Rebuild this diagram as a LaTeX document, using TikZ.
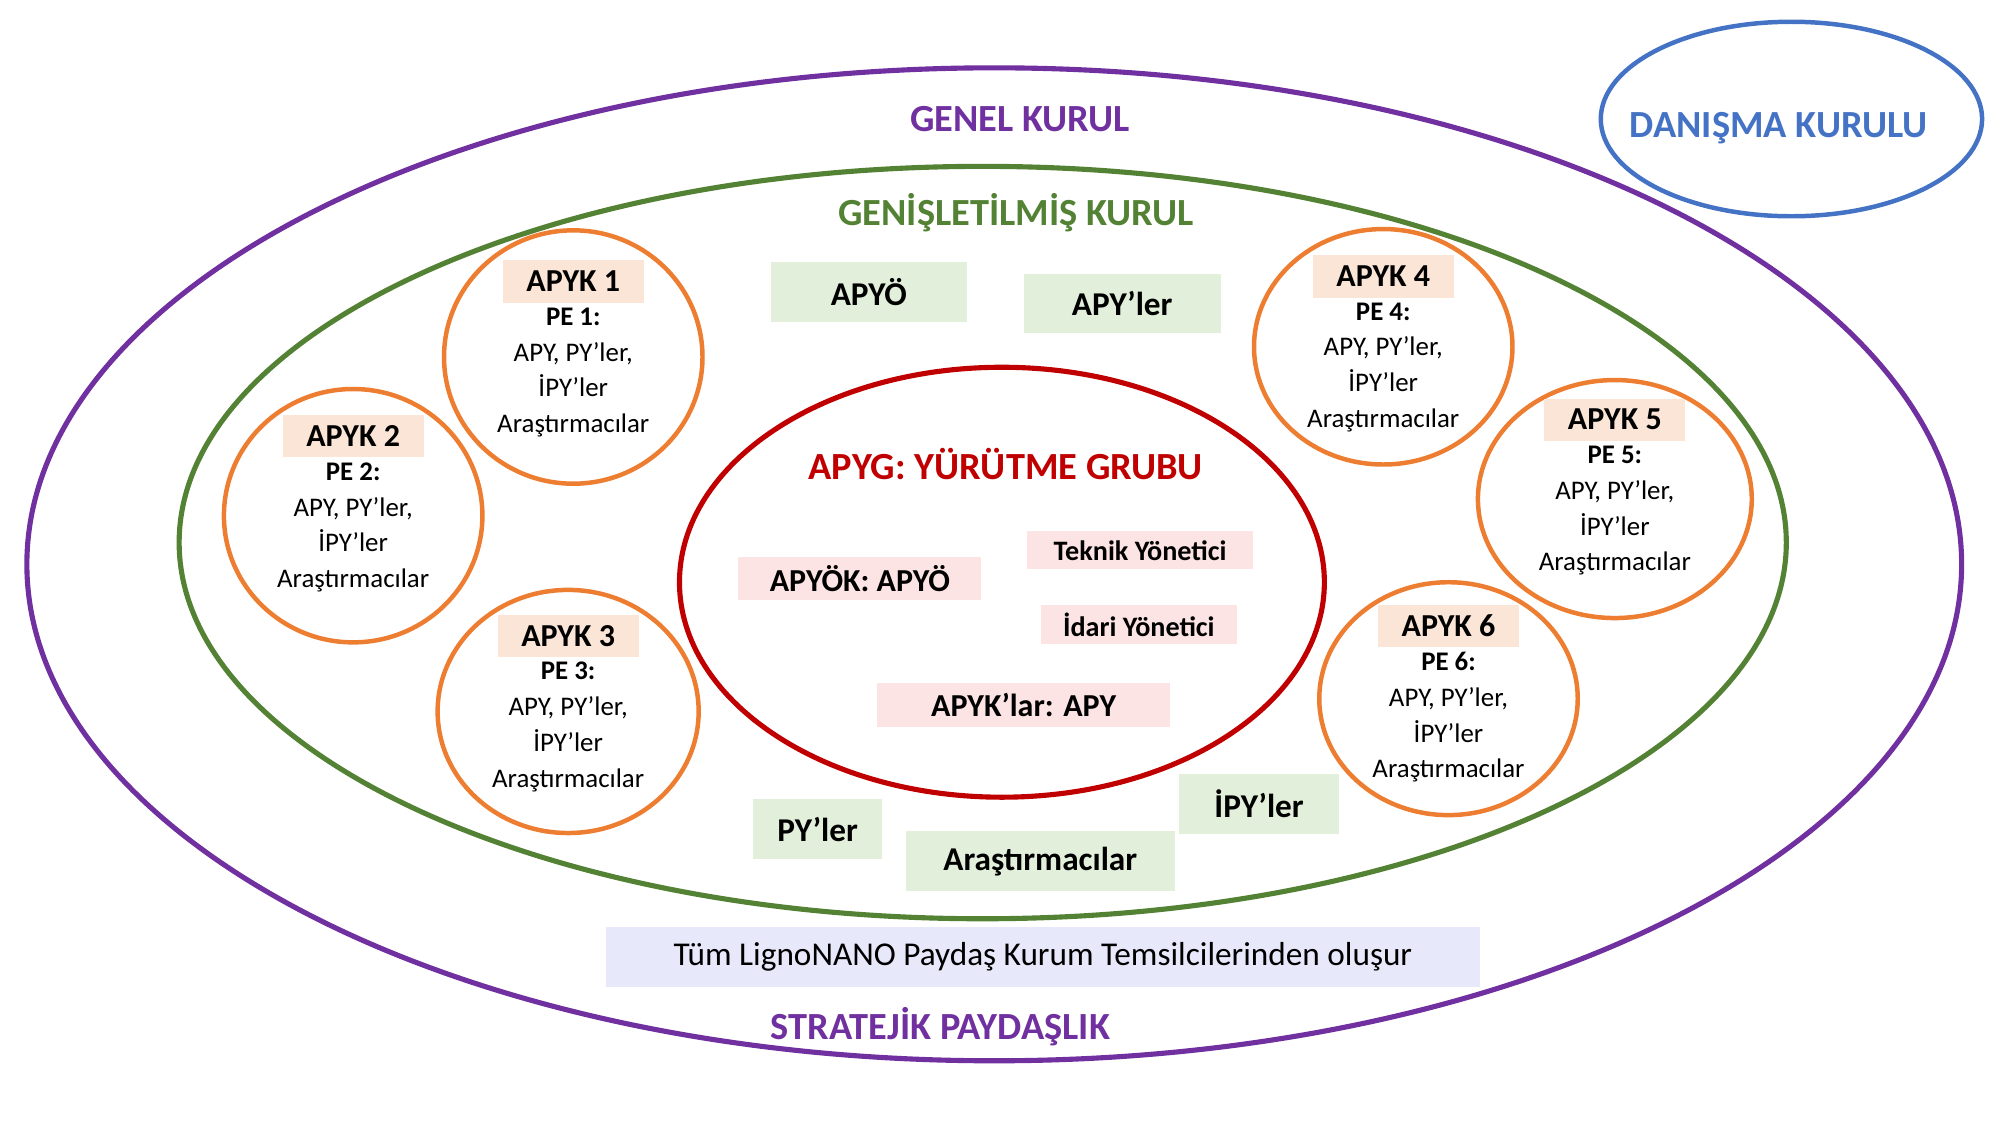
\documentclass[tikz,border=0pt]{standalone}
\usepackage{fontspec}
\setmainfont{Carlito}
\definecolor{pur}{HTML}{7030A0}
\definecolor{grn}{HTML}{548235}
\definecolor{org}{HTML}{ED7D31}
\definecolor{dred}{HTML}{C00000}
\definecolor{blu}{HTML}{4472C4}
\definecolor{peach}{HTML}{FBE5D6}
\definecolor{pink}{HTML}{FDE4E4}
\definecolor{lgrn}{HTML}{E2EFDA}
\definecolor{lav}{HTML}{E8E8FB}
\begin{document}
\begin{tikzpicture}[x=1pt,y=-1pt,
  title/.style={font=\fontsize{30}{30}\selectfont\bfseries},
  gbox/.style={fill=lgrn,font=\fontsize{26}{26}\selectfont\bfseries,inner sep=0pt,anchor=center},
  pbox/.style={fill=pink,font=\fontsize{22}{22}\selectfont\bfseries,inner sep=0pt,anchor=center},
  klab/.style={fill=peach,font=\fontsize{25}{25}\selectfont\bfseries,inner sep=0pt,anchor=center},
  ctext/.style={font=\fontsize{21}{28}\selectfont,align=center,anchor=north},
  circ/.style={draw=org,line width=3.5pt}]
\useasboundingbox (0,0) rectangle (1563,879);
\draw[pur,line width=4pt] (777,441) ellipse [x radius=756,y radius=388];
\draw[blu,line width=3.5pt] (1400,93) ellipse [x radius=149,y radius=76];
\draw[grn,line width=4pt] (768,424) ellipse [x radius=628,y radius=294];
\draw[dred,line width=4pt] (783,455) ellipse [x radius=252,y radius=168];
\node[title,text=blu] (dk) at (1390,100) {DANIŞMA KURULU};
\node[title,text=pur] (gk) at (797,93) {GENEL KURUL};
\node[title,text=grn] (gek) at (794,166) {GENİŞLETİLMİŞ KURUL};
\node[title,text=dred] (yg) at (786,363) {APYG: YÜRÜTME GRUBU};
\node[title,text=pur] (sp) at (735,802) {STRATEJİK PAYDAŞLIK};
% circles
\foreach \n/\cx/\cy/\rx/\ry/\ly in {1/448/279/101/99/220, 2/276/403/101/99/341, 3/444/556/102/95/497, 4/1081/271/101/92/216, 5/1262/390/107/93/328, 6/1132/546/101/91/489}{
  \draw[circ] (\cx,\cy) ellipse [x radius=\rx,y radius=\ry];
  \node[klab,minimum width=110pt,minimum height=33pt] (k\n) at (\cx,\ly) {APYK \n};
  \node[ctext] (t\n) at (\cx,\ly+17) {\textbf{PE \n:}\\APY, PY’ler,\\İPY’ler\\Araştırmacılar};
}
% green boxes
\node[gbox,minimum width=153pt,minimum height=47pt] (b1) at (679,228) {APYÖ};
\node[gbox,minimum width=154pt,minimum height=46pt] (b2) at (877,237) {APY’ler};
\node[gbox,minimum width=101pt,minimum height=47pt] (b3) at (639,648) {PY’ler};
\node[gbox,minimum width=210pt,minimum height=47pt] (b4) at (813,673) {Araştırmacılar};
\node[gbox,minimum width=125pt,minimum height=47pt] (b5) at (984,628) {İPY’ler};
% pink boxes
\node[pbox,minimum width=177pt,minimum height=30pt] (p1) at (891,430) {Teknik Yönetici};
\node[pbox,minimum width=190pt,minimum height=33pt,font=\fontsize{25}{25}\selectfont\bfseries] (p2) at (672,452) {APYÖK: APYÖ};
\node[pbox,minimum width=153pt,minimum height=31pt] (p3) at (890,488) {İdari Yönetici};
\node[pbox,minimum width=229pt,minimum height=35pt,font=\fontsize{25}{25}\selectfont\bfseries] (p4) at (800,551) {APYK’lar: APY};
\node[fill=lav,minimum width=683pt,minimum height=47pt,inner sep=0pt,font=\fontsize{26}{26}\selectfont] (l) at (815,748) {Tüm LignoNANO Paydaş Kurum Temsilcilerinden oluşur};
\end{tikzpicture}
\end{document}
